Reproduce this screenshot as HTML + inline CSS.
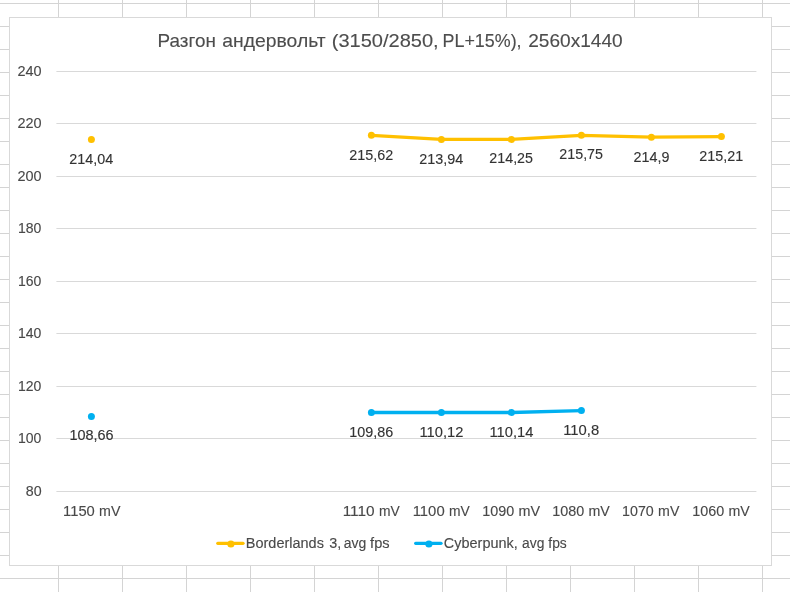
<!DOCTYPE html>
<html lang="ru">
<head>
<meta charset="utf-8">
<title>Разгон андервольт</title>
<style>
html,body{margin:0;padding:0;background:#fff;}
body{width:790px;height:592px;overflow:hidden;position:relative;}
svg{position:absolute;left:0;top:0;display:block;}
text{font-family:"Liberation Sans",sans-serif;}
.ax{fill:#494949;stroke:#494949;stroke-width:0.12px;font-size:14px;}
.dl{fill:#333;stroke:#333;stroke-width:0.12px;font-size:14px;}
.ttl{fill:#4d4d4d;stroke:#4d4d4d;stroke-width:0.12px;font-size:18.2px;}
</style>
</head>
<body>
<svg width="790" height="592" viewBox="0 0 790 592">
<g fill="#d4d4d4" shape-rendering="crispEdges">
<rect x="0" y="3" width="790" height="1"/>
<rect x="0" y="26" width="790" height="1"/>
<rect x="0" y="49" width="790" height="1"/>
<rect x="0" y="72" width="790" height="1"/>
<rect x="0" y="95" width="790" height="1"/>
<rect x="0" y="118" width="790" height="1"/>
<rect x="0" y="141" width="790" height="1"/>
<rect x="0" y="164" width="790" height="1"/>
<rect x="0" y="187" width="790" height="1"/>
<rect x="0" y="210" width="790" height="1"/>
<rect x="0" y="233" width="790" height="1"/>
<rect x="0" y="256" width="790" height="1"/>
<rect x="0" y="279" width="790" height="1"/>
<rect x="0" y="302" width="790" height="1"/>
<rect x="0" y="325" width="790" height="1"/>
<rect x="0" y="348" width="790" height="1"/>
<rect x="0" y="371" width="790" height="1"/>
<rect x="0" y="394" width="790" height="1"/>
<rect x="0" y="417" width="790" height="1"/>
<rect x="0" y="440" width="790" height="1"/>
<rect x="0" y="463" width="790" height="1"/>
<rect x="0" y="486" width="790" height="1"/>
<rect x="0" y="509" width="790" height="1"/>
<rect x="0" y="532" width="790" height="1"/>
<rect x="0" y="555" width="790" height="1"/>
<rect x="0" y="578" width="790" height="1"/>
<rect x="58" y="0" width="1" height="592"/>
<rect x="122" y="0" width="1" height="592"/>
<rect x="186" y="0" width="1" height="592"/>
<rect x="250" y="0" width="1" height="592"/>
<rect x="314" y="0" width="1" height="592"/>
<rect x="378" y="0" width="1" height="592"/>
<rect x="442" y="0" width="1" height="592"/>
<rect x="506" y="0" width="1" height="592"/>
<rect x="570" y="0" width="1" height="592"/>
<rect x="634" y="0" width="1" height="592"/>
<rect x="698" y="0" width="1" height="592"/>
<rect x="762" y="0" width="1" height="592"/>
</g>
<rect x="9.5" y="17.5" width="762" height="548" fill="#fff" stroke="#d9d9d9" stroke-width="1" shape-rendering="crispEdges"/>
<g fill="#d9d9d9">
<rect x="56.4" y="71" width="700" height="1"/>
<rect x="56.4" y="123" width="700" height="1"/>
<rect x="56.4" y="176" width="700" height="1"/>
<rect x="56.4" y="228" width="700" height="1"/>
<rect x="56.4" y="281" width="700" height="1"/>
<rect x="56.4" y="333" width="700" height="1"/>
<rect x="56.4" y="386" width="700" height="1"/>
<rect x="56.4" y="438" width="700" height="1"/>
<rect x="56.4" y="491" width="700" height="1"/>
</g>
<text class="ttl" y="47.1"><tspan id="title_0" x="157.57" textLength="58.30" lengthAdjust="spacingAndGlyphs">Разгон</tspan> <tspan id="title_1" x="222.33" textLength="103.25" lengthAdjust="spacingAndGlyphs">андервольт</tspan> <tspan id="title_2" x="331.72" textLength="106.91" lengthAdjust="spacingAndGlyphs">(3150/2850,</tspan> <tspan id="title_3" x="442.57" textLength="79.03" lengthAdjust="spacingAndGlyphs">PL+15%),</tspan> <tspan id="title_4" x="528.24" textLength="94.35" lengthAdjust="spacingAndGlyphs">2560x1440</tspan></text>
<g>
<text class="ax" y="76.0"><tspan id="y240_0" x="17.41" textLength="24.13" lengthAdjust="spacingAndGlyphs">240</tspan></text>
<text class="ax" y="128.0"><tspan id="y220_0" x="17.41" textLength="24.13" lengthAdjust="spacingAndGlyphs">220</tspan></text>
<text class="ax" y="181.0"><tspan id="y200_0" x="17.41" textLength="24.13" lengthAdjust="spacingAndGlyphs">200</tspan></text>
<text class="ax" y="233.0"><tspan id="y180_0" x="18.05" textLength="23.36" lengthAdjust="spacingAndGlyphs">180</tspan></text>
<text class="ax" y="286.0"><tspan id="y160_0" x="18.05" textLength="23.36" lengthAdjust="spacingAndGlyphs">160</tspan></text>
<text class="ax" y="338.0"><tspan id="y140_0" x="18.05" textLength="23.36" lengthAdjust="spacingAndGlyphs">140</tspan></text>
<text class="ax" y="391.0"><tspan id="y120_0" x="18.05" textLength="23.36" lengthAdjust="spacingAndGlyphs">120</tspan></text>
<text class="ax" y="443.0"><tspan id="y100_0" x="18.05" textLength="23.36" lengthAdjust="spacingAndGlyphs">100</tspan></text>
<text class="ax" y="496.0"><tspan id="y80_0" x="25.77" textLength="15.82" lengthAdjust="spacingAndGlyphs">80</tspan></text>
</g>
<path d="M371.4 135.3 L441.4 139.4 L511.4 139.4 L581.4 135.3 L651.4 137.2 L721.4 136.6" fill="none" stroke="#ffc000" stroke-width="3.3" stroke-linecap="round" stroke-linejoin="round"/>
<circle cx="91.4" cy="139.5" r="3.5" fill="#ffc000"/>
<circle cx="371.4" cy="135.3" r="3.5" fill="#ffc000"/>
<circle cx="441.4" cy="139.4" r="3.5" fill="#ffc000"/>
<circle cx="511.4" cy="139.4" r="3.5" fill="#ffc000"/>
<circle cx="581.4" cy="135.3" r="3.5" fill="#ffc000"/>
<circle cx="651.4" cy="137.2" r="3.5" fill="#ffc000"/>
<circle cx="721.4" cy="136.6" r="3.5" fill="#ffc000"/>
<path d="M371.4 412.5 L441.4 412.5 L511.4 412.5 L581.4 410.6" fill="none" stroke="#00b0f0" stroke-width="3.3" stroke-linecap="round" stroke-linejoin="round"/>
<circle cx="91.4" cy="416.4" r="3.5" fill="#00b0f0"/>
<circle cx="371.4" cy="412.5" r="3.5" fill="#00b0f0"/>
<circle cx="441.4" cy="412.5" r="3.5" fill="#00b0f0"/>
<circle cx="511.4" cy="412.5" r="3.5" fill="#00b0f0"/>
<circle cx="581.4" cy="410.6" r="3.5" fill="#00b0f0"/>
<g>
<text class="dl" y="164.0"><tspan id="d0_0" x="69.38" textLength="43.86" lengthAdjust="spacingAndGlyphs">214,04</tspan></text>
<text class="dl" y="160.1"><tspan id="d1_0" x="349.39" textLength="43.89" lengthAdjust="spacingAndGlyphs">215,62</tspan></text>
<text class="dl" y="164.1"><tspan id="d2_0" x="419.38" textLength="43.86" lengthAdjust="spacingAndGlyphs">213,94</tspan></text>
<text class="dl" y="163.0"><tspan id="d3_0" x="489.39" textLength="43.60" lengthAdjust="spacingAndGlyphs">214,25</tspan></text>
<text class="dl" y="158.9"><tspan id="d4_0" x="559.39" textLength="43.60" lengthAdjust="spacingAndGlyphs">215,75</tspan></text>
<text class="dl" y="162.0"><tspan id="d5_0" x="633.53" textLength="35.85" lengthAdjust="spacingAndGlyphs">214,9</tspan></text>
<text class="dl" y="161.0"><tspan id="d6_0" x="699.38" textLength="43.86" lengthAdjust="spacingAndGlyphs">215,21</tspan></text>
<text class="dl" y="440.1"><tspan id="d7_0" x="69.52" textLength="44.13" lengthAdjust="spacingAndGlyphs">108,66</tspan></text>
<text class="dl" y="437.0"><tspan id="d8_0" x="349.31" textLength="43.88" lengthAdjust="spacingAndGlyphs">109,86</tspan></text>
<text class="dl" y="437.0"><tspan id="d9_0" x="419.50" textLength="43.80" lengthAdjust="spacingAndGlyphs">110,12</tspan></text>
<text class="dl" y="437.0"><tspan id="d10_0" x="489.50" textLength="43.84" lengthAdjust="spacingAndGlyphs">110,14</tspan></text>
<text class="dl" y="434.8"><tspan id="d11_0" x="563.22" textLength="35.89" lengthAdjust="spacingAndGlyphs">110,8</tspan></text>
</g>
<g>
<text class="ax" y="515.9"><tspan id="x0_0" x="63.10" textLength="31.69" lengthAdjust="spacingAndGlyphs">1150</tspan> <tspan id="x0_1" x="99.13" textLength="21.32" lengthAdjust="spacingAndGlyphs">mV</tspan></text>
<text class="ax" y="515.9"><tspan id="x4_0" x="342.66" textLength="31.97" lengthAdjust="spacingAndGlyphs">1110</tspan> <tspan id="x4_1" x="378.90" textLength="20.77" lengthAdjust="spacingAndGlyphs">mV</tspan></text>
<text class="ax" y="515.9"><tspan id="x5_0" x="412.71" textLength="31.94" lengthAdjust="spacingAndGlyphs">1100</tspan> <tspan id="x5_1" x="448.90" textLength="20.77" lengthAdjust="spacingAndGlyphs">mV</tspan></text>
<text class="ax" y="515.9"><tspan id="x6_0" x="482.17" textLength="31.98" lengthAdjust="spacingAndGlyphs">1090</tspan> <tspan id="x6_1" x="518.45" textLength="21.56" lengthAdjust="spacingAndGlyphs">mV</tspan></text>
<text class="ax" y="515.9"><tspan id="x7_0" x="552.17" textLength="31.98" lengthAdjust="spacingAndGlyphs">1080</tspan> <tspan id="x7_1" x="588.47" textLength="21.30" lengthAdjust="spacingAndGlyphs">mV</tspan></text>
<text class="ax" y="515.9"><tspan id="x8_0" x="622.07" textLength="31.72" lengthAdjust="spacingAndGlyphs">1070</tspan> <tspan id="x8_1" x="658.13" textLength="21.27" lengthAdjust="spacingAndGlyphs">mV</tspan></text>
<text class="ax" y="515.9"><tspan id="x9_0" x="692.17" textLength="31.98" lengthAdjust="spacingAndGlyphs">1060</tspan> <tspan id="x9_1" x="728.48" textLength="21.28" lengthAdjust="spacingAndGlyphs">mV</tspan></text>
</g>
<path d="M217.7 543.35 H243.1" stroke="#ffc000" stroke-width="3.1" stroke-linecap="round" fill="none"/>
<circle cx="230.9" cy="544" r="3.6" fill="#ffc000"/>
<text class="ax" y="547.7"><tspan id="leg1_0" x="245.85" textLength="78.07" lengthAdjust="spacingAndGlyphs">Borderlands</tspan> <tspan id="leg1_1" x="329.18" textLength="11.99" lengthAdjust="spacingAndGlyphs">3,</tspan> <tspan id="leg1_2" x="343.77" textLength="22.55" lengthAdjust="spacingAndGlyphs">avg</tspan> <tspan id="leg1_3" x="370.09" textLength="19.52" lengthAdjust="spacingAndGlyphs">fps</tspan></text>
<path d="M415.6 543.35 H441.1" stroke="#00b0f0" stroke-width="3.1" stroke-linecap="round" fill="none"/>
<circle cx="428.9" cy="544" r="3.6" fill="#00b0f0"/>
<text class="ax" y="547.7"><tspan id="leg2_0" x="443.88" textLength="73.90" lengthAdjust="spacingAndGlyphs">Cyberpunk,</tspan> <tspan id="leg2_1" x="522.06" textLength="22.31" lengthAdjust="spacingAndGlyphs">avg</tspan> <tspan id="leg2_2" x="548.30" textLength="18.48" lengthAdjust="spacingAndGlyphs">fps</tspan></text>
</svg>
</body>
</html>
